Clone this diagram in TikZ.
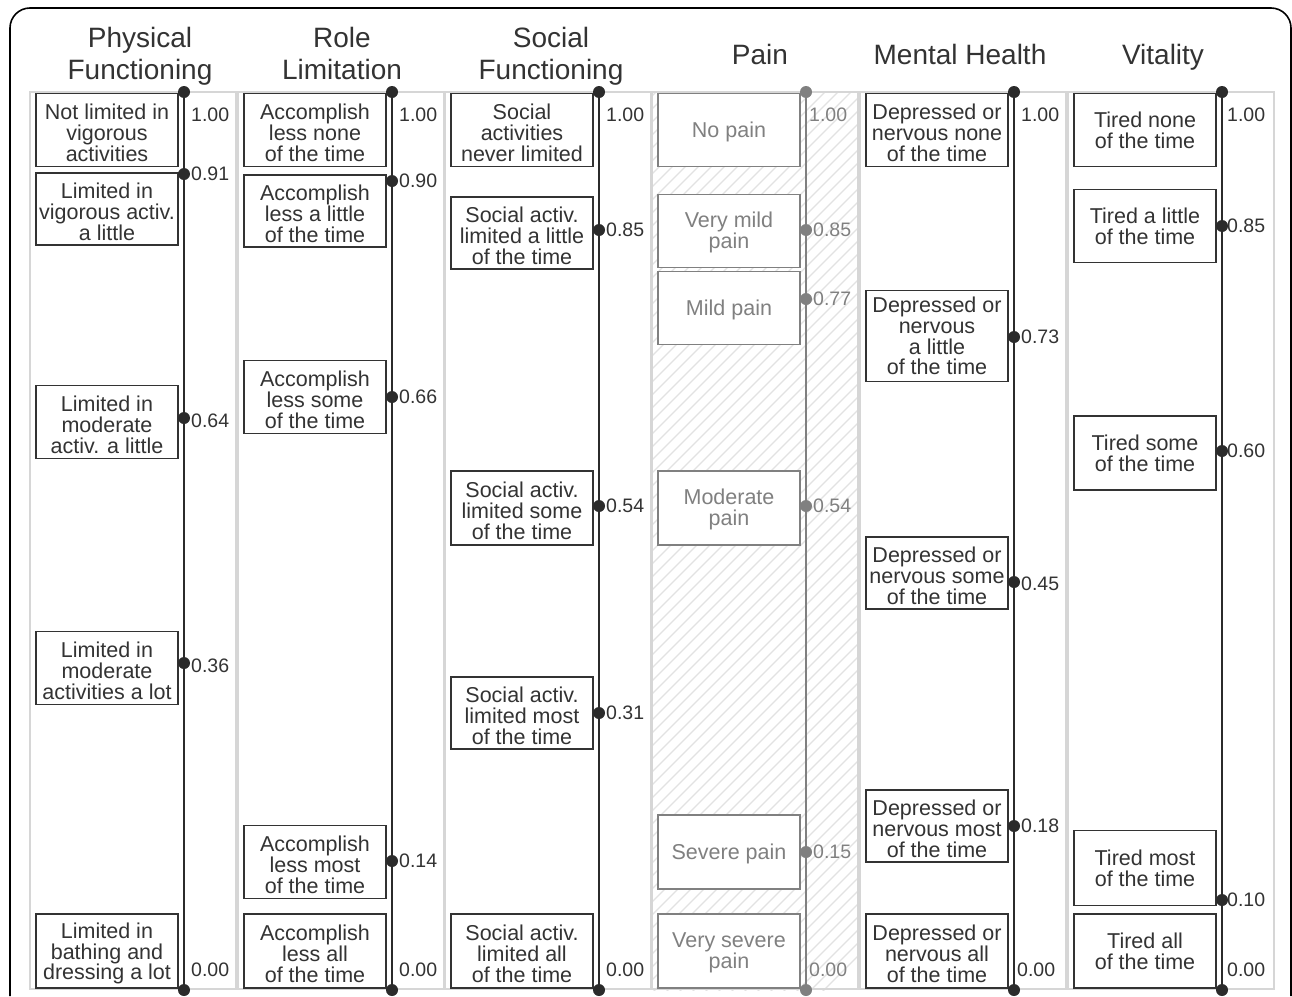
\documentclass[tikz,border=0pt]{standalone}
\usepackage{fontspec}
\setmainfont{Liberation Sans}
\definecolor{ink}{HTML}{333333}
\definecolor{axc}{HTML}{2B2B2B}
\definecolor{painc}{HTML}{808080}
\definecolor{panelc}{HTML}{D6D6D6}
\definecolor{hatchc}{HTML}{E2E2E2}
\newcommand\hiln{\rule{0pt}{21pt}}
\newcommand\midln{\rule{0pt}{19pt}}
\newcommand\oneln{\rule{0pt}{20pt}}
\begin{document}
\begin{tikzpicture}[x=1pt,y=-1pt,
  box/.style={draw=ink, line width=1.8pt, fill=white, minimum width=142pt,
    minimum height=73pt, inner sep=0pt, align=center, text=ink,
    font=\fontsize{21.5}{20.7}\selectfont},
  painbox/.style={box, draw=painc, text=painc},
  dot/.style={circle, fill=axc, inner sep=0pt, minimum size=12pt},
  paindot/.style={dot, fill=painc},
  axis/.style={draw=axc, line width=2.6pt},
  painaxis/.style={axis, draw=painc},
  val/.style={anchor=west, inner sep=1pt, text=ink, font=\fontsize{19.5}{20}\selectfont},
  painval/.style={val, text=painc},
  title/.style={align=center, text=ink, font=\fontsize{28}{32}\selectfont},
  panel/.style={draw=panelc, line width=1.4pt}]
\useasboundingbox (0,0) rectangle (1292,996);
\fill[white] (0,0) rectangle (1292,996);
% outer frame
\draw[black, line width=1.6pt] (10,996) -- (10,28) arc[start angle=180, end angle=270, radius=20]
  -- (1271,8) arc[start angle=-90, end angle=0, radius=20] -- (1291,996);
% pain hatching
\begin{scope}
  \clip (652,92) rectangle (857,990);
  \foreach \i in {0,...,90} {
    \draw[hatchc, line width=1.3pt] ({652+\i*13-1000},992) -- ++(1000,-1000);
  }
\end{scope}
% panels
\foreach \a in {184,392,599,806,1014,1222} {
  \draw[panel] ({\a-154},92) rectangle ({\a+52},989);
}
% titles
\node[title, anchor=north] (t1) at (140,24) {Physical\\Functioning};
\node[title, anchor=north] (t2) at (342,24) {Role\\Limitation};
\node[title, anchor=north] (t3) at (551,24) {Social\\Functioning};
\node[title, anchor=base] (t4) at (760,64) {Pain};
\node[title, anchor=base] (t5) at (960,64) {Mental Health};
\node[title, anchor=base] (t6) at (1163,64) {Vitality};

% ---------- column 1
\node[box] (p1) at (107,130) {\hiln Not limited in\\vigorous\\activities};
\node[box, minimum height=72pt] (p2) at (107,209) {\hiln Limited in\\vigorous activ.\\a little};
\node[box] (p3) at (107,422) {\hiln Limited in\\moderate\\activ. a little};
\node[box] (p4) at (107,668) {\hiln Limited in\\moderate\\activities a lot};
\node[box, minimum height=74pt] (p5) at (107,951) {\hiln Limited in\\bathing and\\dressing a lot};
\node[dot] (pd1) at (184,92) {};
\node[dot] (pd2) at (184,174) {};
\node[dot] (pd3) at (184,418) {};
\node[dot] (pd4) at (184,663) {};
\node[dot] (pd5) at (184,990) {};
\draw[axis] (pd1.center) -- (pd5.center);
\node[val] (pv1) at (190,115) {1.00};
\node[val] (pv2) at (190,174) {0.91};
\node[val] (pv3) at (190,421) {0.64};
\node[val] (pv4) at (190,666) {0.36};
\node[val] (pv5) at (190,970) {0.00};

% ---------- column 2
\node[box] (r1) at (315,130) {\hiln Accomplish\\less none\\of the time};
\node[box, minimum height=72pt] (r2) at (315,211) {\hiln Accomplish\\less a little\\of the time};
\node[box] (r3) at (315,397) {\hiln Accomplish\\less some\\of the time};
\node[box] (r4) at (315,862) {\hiln Accomplish\\less most\\of the time};
\node[box, minimum height=74pt] (r5) at (315,951) {\hiln Accomplish\\less all\\of the time};
\node[dot] (rd1) at (392,92) {};
\node[dot] (rd2) at (392,181) {};
\node[dot] (rd3) at (392,397) {};
\node[dot] (rd4) at (392,861) {};
\node[dot] (rd5) at (392,990) {};
\draw[axis] (rd1.center) -- (rd5.center);
\node[val] (rv1) at (398,115) {1.00};
\node[val] (rv2) at (398,181) {0.90};
\node[val] (rv3) at (398,397) {0.66};
\node[val] (rv4) at (398,861) {0.14};
\node[val] (rv5) at (398,970) {0.00};

% ---------- column 3
\node[box] (s1) at (522,130) {\hiln Social\\activities\\never limited};
\node[box, minimum height=72pt] (s2) at (522,233) {\hiln Social activ.\\limited a little\\of the time};
\node[box, minimum height=74pt] (s3) at (522,508) {\hiln Social activ.\\limited some\\of the time};
\node[box, minimum height=72pt] (s4) at (522,713) {\hiln Social activ.\\limited most\\of the time};
\node[box, minimum height=74pt] (s5) at (522,951) {\hiln Social activ.\\limited all\\of the time};
\node[dot] (sd1) at (599,92) {};
\node[dot] (sd2) at (599,230) {};
\node[dot] (sd3) at (599,506) {};
\node[dot] (sd4) at (599,713) {};
\node[dot] (sd5) at (599,990) {};
\draw[axis] (sd1.center) -- (sd5.center);
\node[val] (sv1) at (605,115) {1.00};
\node[val] (sv2) at (605,230) {0.85};
\node[val] (sv3) at (605,506) {0.54};
\node[val] (sv4) at (605,713) {0.31};
\node[val] (sv5) at (605,970) {0.00};

% ---------- column 4 (pain, grey)
\node[painbox] (a1) at (729,130) {\oneln No pain};
\node[painbox] (a2) at (729,231) {\midln Very mild\\pain};
\node[painbox] (a3) at (729,308) {\oneln Mild pain};
\node[painbox, minimum height=74pt] (a4) at (729,508) {\midln Moderate\\pain};
\node[painbox, minimum height=74pt] (a5) at (729,852) {\oneln Severe pain};
\node[painbox, minimum height=74pt] (a6) at (729,951) {\midln Very severe\\pain};
\node[paindot] (ad1) at (806,92) {};
\node[paindot] (ad2) at (806,230) {};
\node[paindot] (ad3) at (806,299) {};
\node[paindot] (ad4) at (806,506) {};
\node[paindot] (ad5) at (806,852) {};
\node[paindot] (ad6) at (806,990) {};
\draw[painaxis] (ad1.center) -- (ad6.center);
\node[painval] (av1) at (808,115) {1.00};
\node[painval] (av2) at (812,230) {0.85};
\node[painval] (av3) at (812,299) {0.77};
\node[painval] (av4) at (812,506) {0.54};
\node[painval] (av5) at (812,852) {0.15};
\node[painval] (av6) at (808,970) {0.00};

% ---------- column 5
\node[box] (m1) at (937,130) {\hiln Depressed or\\nervous none\\of the time};
\node[box, minimum height=91pt] (m2) at (937,336) {Depressed or\\nervous\\a little\\of the time};
\node[box, minimum height=72pt] (m3) at (937,573) {\hiln Depressed or\\nervous some\\of the time};
\node[box, minimum height=72pt] (m4) at (937,826) {\hiln Depressed or\\nervous most\\of the time};
\node[box, minimum height=74pt] (m5) at (937,951) {\hiln Depressed or\\nervous all\\of the time};
\node[dot] (md1) at (1014,92) {};
\node[dot] (md2) at (1014,337) {};
\node[dot] (md3) at (1014,582) {};
\node[dot] (md4) at (1014,826) {};
\node[dot] (md5) at (1014,990) {};
\draw[axis] (md1.center) -- (md5.center);
\node[val] (mv1) at (1020,115) {1.00};
\node[val] (mv2) at (1020,337) {0.73};
\node[val] (mv3) at (1020,584) {0.45};
\node[val] (mv4) at (1020,826) {0.18};
\node[val] (mv5) at (1016,970) {0.00};

% ---------- column 6
\node[box] (v1) at (1145,130) {Tired none\\of the time};
\node[box] (v2) at (1145,226) {Tired a little\\of the time};
\node[box, minimum height=74pt] (v3) at (1145,453) {Tired some\\of the time};
\node[box, minimum height=75pt] (v4) at (1145,868) {Tired most\\of the time};
\node[box, minimum height=74pt] (v5) at (1145,951) {Tired all\\of the time};
\node[dot] (vd1) at (1222,92) {};
\node[dot] (vd2) at (1222,226) {};
\node[dot] (vd3) at (1222,451) {};
\node[dot] (vd4) at (1222,900) {};
\node[dot] (vd5) at (1222,990) {};
\draw[axis] (vd1.center) -- (vd5.center);
\node[val] (vv1) at (1226,115) {1.00};
\node[val] (vv2) at (1226,226) {0.85};
\node[val] (vv3) at (1226,451) {0.60};
\node[val] (vv4) at (1226,900) {0.10};
\node[val] (vv5) at (1226,970) {0.00};
\end{tikzpicture}
\end{document}
